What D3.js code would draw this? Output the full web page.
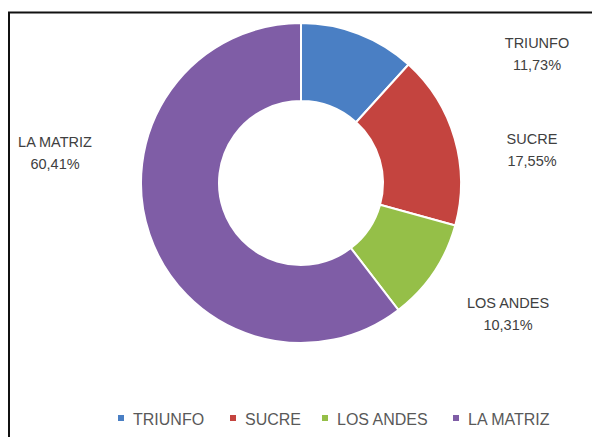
<!DOCTYPE html>
<html>
<head>
<meta charset="utf-8">
<script src="https://cdn.jsdelivr.net/npm/d3@7"></script>
<style>
body{margin:0;background:#fff;}
svg{display:block;}
</style>
</head>
<body>
<svg id="chart" width="592" height="437"></svg>
<script>
const categories = ["TRIUNFO", "SUCRE", "LOS ANDES", "LA MATRIZ"];
const values = [11.73, 17.55, 10.31, 60.41];
const valueLabels = ["11,73%", "17,55%", "10,31%", "60,41%"];
const colors = ["#4a7fc4", "#c4443f", "#95bf48", "#7f5da6"];

const svg = d3.select("#chart");
const W = 592, H = 437;
svg.append("rect").attr("width", W).attr("height", H).attr("fill", "#fff");

// frame
svg.append("path")
  .attr("d", d3.line()([[9, H], [9, 12.5], [W, 12.5]]))
  .attr("fill", "none").attr("stroke", "#111").attr("stroke-width", 2);

const cx = 301, cy = 183, rOuter = 160, rInner = 82;
const data = categories.map((c, i) => ({cat: c, value: values[i], label: valueLabels[i], color: colors[i]}));
const pie = d3.pie().value(d => d.value).sort(null);
const arc = d3.arc().innerRadius(rInner).outerRadius(rOuter);
const arcs = pie(data);

const g = svg.append("g").attr("transform", `translate(${cx},${cy})`);
g.selectAll("path").data(arcs).join("path")
  .attr("d", arc)
  .attr("fill", d => d.data.color)
  .attr("stroke", "#fff").attr("stroke-width", 2).attr("stroke-linejoin", "miter");

// data labels (placed outside the ring)
const labelPos = [[537, 48], [532, 144], [508, 308], [55, 147]];
const lg = svg.append("g").attr("font-family", "Liberation Sans, Arial, sans-serif")
  .attr("font-size", 14.5).attr("fill", "#404040").attr("text-anchor", "middle");
arcs.forEach((a, i) => {
  const [x, y] = labelPos[i];
  lg.append("text").attr("x", x).attr("y", y).text(a.data.cat).attr("textLength", null);
  lg.append("text").attr("x", x).attr("y", y + 22).text(a.data.label);
});

// legend
const legendX = [121, 233, 325, 456];
const leg = svg.append("g").attr("font-family", "Liberation Sans, Arial, sans-serif")
  .attr("font-size", 16).attr("fill", "#595959");
data.forEach((d, i) => {
  leg.append("rect").attr("x", legendX[i] - 3).attr("y", 415).attr("width", 6).attr("height", 6).attr("fill", d.color);
  leg.append("text").attr("x", legendX[i] + 12).attr("y", 425).text(d.cat);
});
</script>
</body>
</html>
